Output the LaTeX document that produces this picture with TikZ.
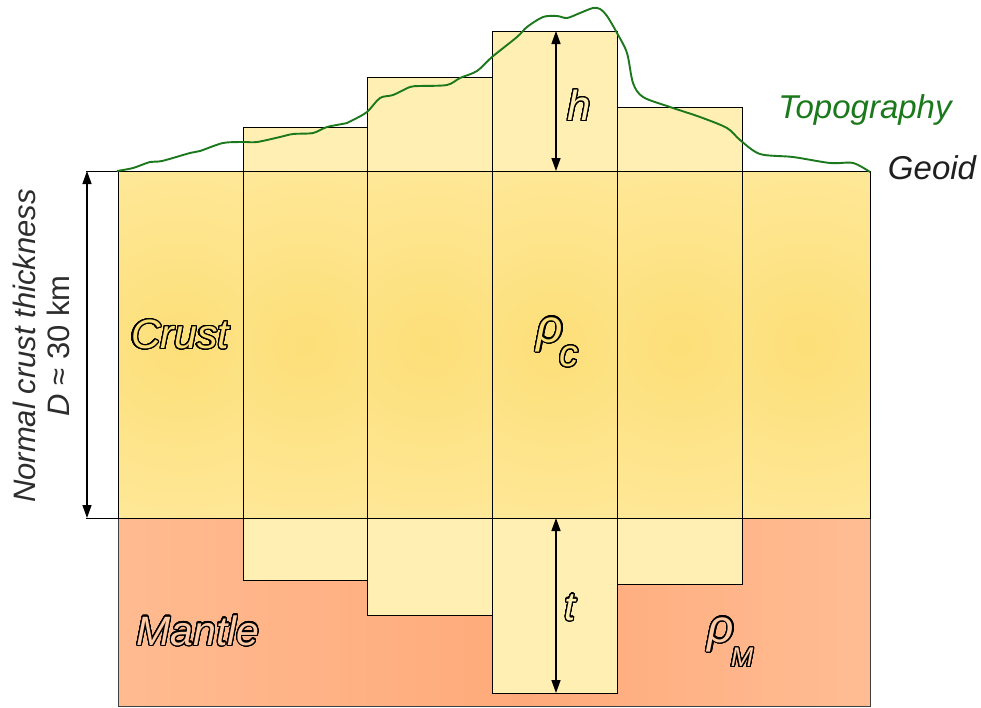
\documentclass[tikz,border=0pt]{standalone}
\usepackage{fontspec}
\setmainfont{Liberation Sans}
\usepackage{contour}
\usetikzlibrary{arrows.meta}
\definecolor{crustin}{RGB}{253,223,120}
\definecolor{crustout}{RGB}{255,239,180}
\definecolor{colfill}{RGB}{255,239,178}
\definecolor{mantleL}{RGB}{255,202,164}
\definecolor{mantleM}{RGB}{255,170,122}
\definecolor{mantleR}{RGB}{255,208,174}
\definecolor{topo}{RGB}{28,120,28}
\definecolor{txtgrey}{RGB}{45,45,45}
\pgfdeclareradialshading{crustglow}{\pgfpoint{0bp}{0bp}}{color(0bp)=(crustin); color(35bp)=(crustout); color(50bp)=(crustout); color(100bp)=(crustout)}
\pgfdeclarehorizontalshading{mantleshade}{100bp}{color(0bp)=(mantleL); color(52bp)=(mantleM); color(100bp)=(mantleR)}
\contourlength{1.2pt}
\contournumber{32}
\begin{document}
\begin{tikzpicture}[x=1pt,y=-1pt,
  boxline/.style={draw=black,line width=0.9pt},
  dimarrow/.style={{Triangle[length=13pt,width=9pt]}-{Triangle[length=13pt,width=9pt]},line width=1.4pt,black},
  outltext/.style={inner sep=0pt,font=\itshape}]
\useasboundingbox (0,0) rectangle (981,707);
% mantle
\shade[shading=mantleshade,shading angle=0] (118,518) rectangle (870,706);
\draw[draw=black!75,line width=0.9pt] (118,518) rectangle (870,706);
% columns
\foreach \xa/\xb/\yt/\yb in {118/243/171/518,243/367/127/580,367/492/77/615,492/617/31/693,617/742/107/584,742/870/171/518}{
  \fill[colfill] (\xa,\yt) rectangle (\xb,\yb);
  \begin{scope}
    \clip (\xa,171) rectangle (\xb,518);
    \shade[shading=crustglow] ({(\xa+\xb)/2},345) circle[radius=250];
  \end{scope}
  \draw[boxline] (\xa,\yt) rectangle (\xb,\yb);
}
% geoid and crust bottom lines
\coordinate (gl) at (86,171);
\coordinate (gr) at (870,171);
\coordinate (bl) at (86,518);
\coordinate (br) at (870,518);
\draw[boxline] (gl) -- (gr);
\draw[boxline] (bl) -- (br);
% topography
\draw[topo,line width=1.9pt] plot[smooth,tension=0.5] coordinates {(117,171) (133,168) (150,162) (162,161) (190,153) (200,151) (223,143) (243,142) (257,142) (280,137) (293,134) (313,133) (327,127) (347,123) (353,120) (367,112) (380,98) (393,95) (410,87) (420,86) (447,85) (460,78) (477,71) (492,57) (517,37) (527,27) (543,17) (557,16) (567,18) (580,13) (593,8) (600,9) (607,16) (617,33) (627,53) (633,83) (643,97) (670,107) (700,117) (727,128) (740,140) (760,154) (793,157) (830,163) (853,163) (870,172)};
% dimension arrows
\coordinate (dtop) at (87,171);
\coordinate (dbot) at (87,518);
\coordinate (htop) at (556,31);
\coordinate (hbot) at (556,171);
\coordinate (ttop) at (556,518);
\coordinate (tbot) at (556,693);
\draw[dimarrow] (dtop) -- (dbot);
\draw[dimarrow] (htop) -- (hbot);
\draw[dimarrow] (ttop) -- (tbot);
% labels
\node[outltext,font=\itshape\fontsize{41}{41}\selectfont] (crust) at (180,335) {\color{crustin}\contour{black}{Crust}};
\node[outltext,font=\itshape\fontsize{41}{41}\selectfont] (mantle) at (198,631) {\color{mantleL}\contour{black}{Mantle}};
\node[outltext,font=\itshape\fontsize{42}{42}\selectfont] (hlab) at (579,106) {\color{crustout}\contour{black}{h}};
\node[outltext,font=\itshape\fontsize{40}{40}\selectfont] (tlab) at (570,608) {\color{crustout}\contour{black}{t}};
\node[outltext,font=\itshape\fontsize{46}{46}\selectfont] (rhoc) at (550,335) {\color{crustin}\contour{black}{ρ}};
\node[outltext,font=\itshape\fontsize{38}{38}\selectfont] (subc) at (569,357) {\color{crustin}\contour{black}{c}};
\node[outltext,font=\itshape\fontsize{46}{46}\selectfont] (rhom) at (721,635) {\color{mantleL}\contour{black}{ρ}};
\node[outltext,font=\itshape\fontsize{27}{27}\selectfont] (subm) at (742,658) {\color{mantleL}\contour{black}{M}};
\node[inner sep=0pt,text=topo,font=\itshape\fontsize{33}{33}\selectfont] (topolab) at (865,110) {Topography};
\node[inner sep=0pt,text=black!88,font=\itshape\fontsize{33}{33}\selectfont] (geoid) at (932,168) {Geoid};
\node[inner sep=0pt,text=txtgrey,rotate=90,align=center,font=\fontsize{31}{34}\selectfont] (dlab) at (41,346) {\itshape Normal crust thickness\\\itshape D\upshape{} ≈ 30 km};
\end{tikzpicture}
\end{document}
